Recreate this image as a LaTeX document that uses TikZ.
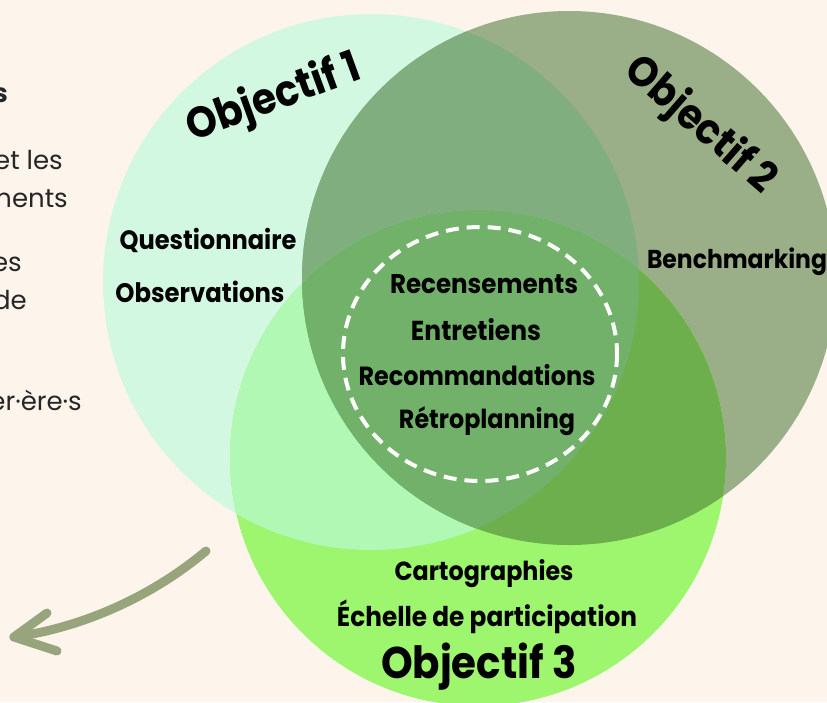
\documentclass[tikz,border=0pt]{standalone}
\usepackage{fontspec}
\setmainfont{Poppins}
\usepackage{graphicx}
\definecolor{bgc}{HTML}{FDF5EC}
\definecolor{cA}{HTML}{D2F8E2}
\definecolor{cB}{HTML}{9AAF88}
\definecolor{cC}{HTML}{9EF56E}
\definecolor{cAB}{HTML}{80AE7E}
\definecolor{cAC}{HTML}{B0F8B4}
\definecolor{cBC}{HTML}{6DAF4C}
\definecolor{cABC}{HTML}{72B16A}
\definecolor{arrc}{HTML}{97A47C}
\newcommand\fitw[2]{\scalebox{1}[1.1]{\resizebox{#1pt}{!}{#2}}}
\begin{document}
\begin{tikzpicture}[x=1pt,y=-1pt,
  lbl/.style={font=\bfseries\fontsize{20}{24}\selectfont, text=black, inner sep=0pt},
  big/.style={font=\bfseries\fontsize{40}{48}\selectfont, text=black, inner sep=0pt},
  side/.style={font=\fontsize{26}{30}\selectfont, text=black!85, inner sep=0pt, anchor=base east},
  arr/.style={draw=arrc, line width=9pt, line cap=round, line join=round}]
\useasboundingbox (0,0) rectangle (827,702);
\fill[bgc] (0,0) rectangle (827,702);
\begin{scope}
\clip (0,0) rectangle (827,702);
% side text fragments
\node[side, font=\bfseries\fontsize{26}{30}\selectfont] (s0) at (8,102) {s};
\node[side] (s1) at (63,169) {et les};
\node[side] (s2) at (68,207) {ments};
\node[side] (s3) at (22,271) {es};
\node[side] (s4) at (27,309) {de};
\node[side] (s5) at (82,410) {er·ère·s};
% circles
\fill[cA] (371,282) circle (268);
\fill[cB] (569,278) circle (267);
\fill[cC] (478,458) circle (248);
\begin{scope}
  \clip (371,282) circle (268);
  \fill[cAB] (569,278) circle (267);
  \fill[cAC] (478,458) circle (248);
\end{scope}
\begin{scope}
  \clip (569,278) circle (267);
  \fill[cBC] (478,458) circle (248);
\end{scope}
\begin{scope}
  \clip (371,282) circle (268);
  \clip (569,278) circle (267);
  \fill[cABC] (478,458) circle (248);
\end{scope}
% dashed inner ellipse
\draw[white, line width=4pt, dash pattern=on 13pt off 8pt] (480,354) ellipse [x radius=137, y radius=127];
% labels
\node[lbl] (q) at (208,240) {\fitw{177}{Questionnaire}};
\node[lbl] (o) at (200,292) {\fitw{169}{Observations}};
\node[lbl] (b) at (737,262) {\fitw{180}{Benchmarking}};
\node[lbl] (r1) at (484,284) {\fitw{188}{Recensements}};
\node[lbl] (r2) at (476,330) {\fitw{130}{Entretiens}};
\node[lbl] (r3) at (477,375) {\fitw{237}{Recommandations}};
\node[lbl] (r4) at (487,421) {\fitw{176}{Rétroplanning}};
\node[lbl] (c1) at (484,574) {\fitw{179}{Cartographies}};
\node[lbl] (c2) at (487,617) {\fitw{300}{Échelle de participation}};
\node[big] (o1) at (274,99) [rotate=20] {\fitw{182}{Objectif 1}};
\node[big] (o2) at (700,126) [rotate=-41] {\fitw{185}{Objectif 2}};
\node[big] (o3) at (479,667) {\fitw{196}{Objectif 3}};
% arrow
\coordinate (a1) at (206,551);
\coordinate (tip) at (14,637);
\coordinate (b1) at (47,613);
\coordinate (b2) at (57,651);
\draw[arr] (a1) .. controls (150,598) and (80,628) .. (tip);
\draw[arr] (b1) -- (tip) -- (b2);
\end{scope}
\end{tikzpicture}
\end{document}
